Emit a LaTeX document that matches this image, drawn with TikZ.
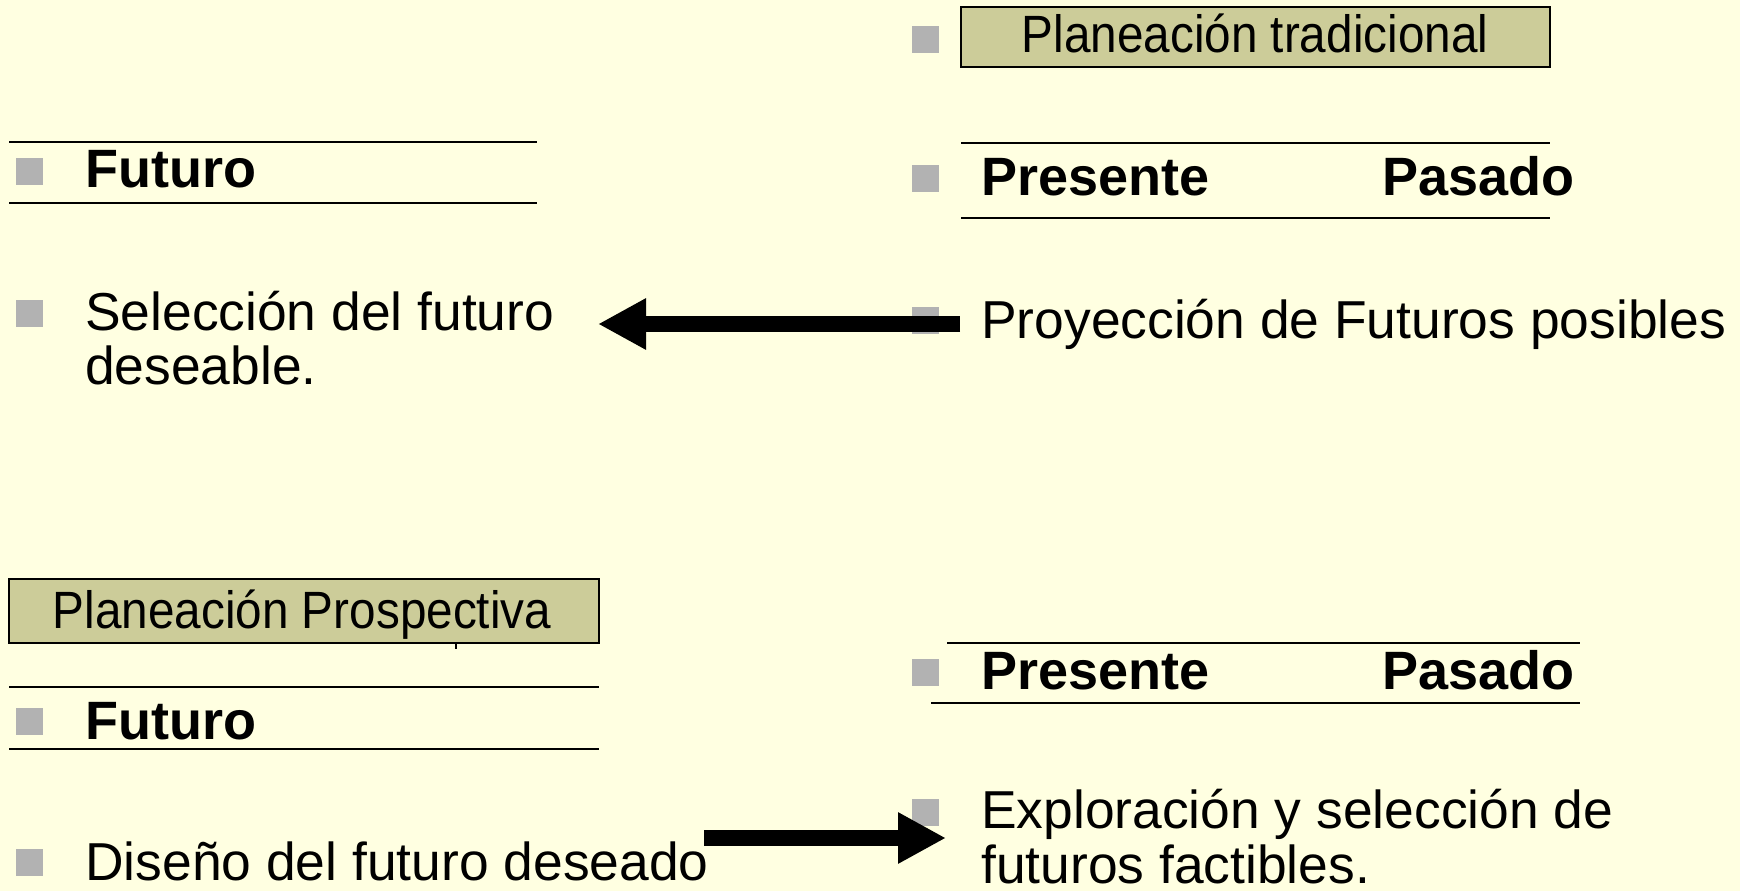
\documentclass[tikz,border=0pt]{standalone}
\usepackage{fontspec}
\setmainfont{Liberation Sans}
\usetikzlibrary{arrows.meta}
\definecolor{bgc}{HTML}{FFFFE1}
\definecolor{boxc}{HTML}{CCCC99}
\definecolor{bulc}{HTML}{B2B2B2}
\begin{document}
\begin{tikzpicture}[x=1pt,y=-1pt,
  body/.style={anchor=base west, inner sep=0pt, font=\fontsize{53.4}{54}\selectfont},
  bodyb/.style={anchor=base west, inner sep=0pt, font=\fontsize{54}{54}\selectfont\bfseries},
  titlebox/.style={draw=black, line width=2pt, fill=boxc, inner sep=0pt},
  titletext/.style={anchor=base, inner sep=0pt, font=\fontsize{47.7}{47.7}\selectfont},
  bul/.style={fill=bulc, minimum size=27pt, inner sep=0pt, draw=none},
  rulel/.style={line width=2pt},
  bigarrow/.style={line width=16pt, -{Triangle[length=48pt,width=48pt]}}]
\fill[bgc] (0,0) rectangle (1740,891);
\useasboundingbox (0,0) rectangle (1740,891);

% ---------- top right: Planeacion tradicional ----------
\node[bul] (b1) at (925,39.5) {};
\node[titlebox, minimum width=589pt, minimum height=60pt] (trad) at (1255.5,37) {};
\node[titletext] (tradt) at (1255,52.5) {\scalebox{1}[1.1]{Planeación tradicional}};

\draw[rulel] (961,142.5) -- (1550,142.5);
\draw[rulel] (961,218) -- (1550,218);
\node[bul] (b2) at (925,178.5) {};
\node[bodyb] (pres1) at (981,195.5) {Presente};
\node[bodyb] (pas1) at (1382,195.5) {Pasado};

\node[bul] (b3) at (925,320) {};
\node[body] (proy) at (981,338.5) {Proyección de Futuros posibles};

% ---------- top left ----------
\draw[rulel] (9,142) -- (537,142);
\draw[rulel] (9,203) -- (537,203);
\node[bul] (b4) at (29.5,171.5) {};
\node[bodyb] (fut1) at (85,187.5) {Futuro};

\node[bul] (b5) at (29.5,313.5) {};
\node[body] (sel1) at (85,330) {Selección del futuro};
\node[body] (sel2) at (85,384) {deseable.};

% arrow 1
\coordinate (a1s) at (960,324);
\coordinate (a1e) at (598,324);
\draw[bigarrow] (a1s) -- (a1e);

% ---------- bottom left: Planeacion prospectiva ----------
\fill (454.5,643) rectangle (456.5,649);
\node[titlebox, minimum width=590pt, minimum height=64pt] (prosp) at (304,611) {};
\node[titletext] (prospt) at (302,628) {\scalebox{1}[1.1]{Planeación Prospectiva}};

\draw[rulel] (9,687) -- (599,687);
\draw[rulel] (9,749) -- (599,749);
\node[bul] (b6) at (29.5,721) {};
\node[bodyb] (fut2) at (85,739) {Futuro};

\node[bul] (b7) at (29.5,862) {};
\node[body] (dis) at (85,880) {Diseño del futuro deseado};

% ---------- bottom right ----------
\draw[rulel] (947,643) -- (1580,643);
\draw[rulel] (931,702.5) -- (1580,702.5);
\node[bul] (b8) at (925,672.5) {};
\node[bodyb] (pres2) at (981,689) {Presente};
\node[bodyb] (pas2) at (1382,689) {Pasado};

\node[bul] (b9) at (925,812) {};
\node[body] (exp1) at (981,828) {Exploración y selección de};
\node[body] (exp2) at (981,883) {futuros factibles.};

% arrow 2
\coordinate (a2s) at (704,838);
\coordinate (a2e) at (946,838);
\draw[bigarrow] (a2s) -- (a2e);
\end{tikzpicture}
\end{document}
